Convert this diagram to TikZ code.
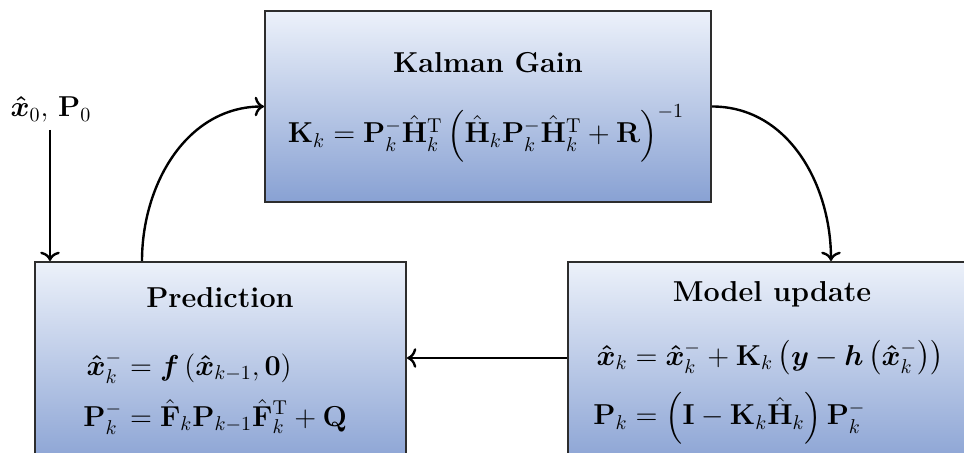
\documentclass[tikz,border=0pt]{standalone}
\usepackage{amsmath}
\usepackage{bm}
\usetikzlibrary{arrows.meta}
\definecolor{boxtop}{RGB}{236,241,250}
\definecolor{boxbot}{RGB}{136,161,211}
\definecolor{boxline}{RGB}{45,45,45}
\begin{document}
\begin{tikzpicture}[x=0.5pt,y=-0.5pt,
  blk/.style={draw=boxline,line width=1pt,top color=boxtop,bottom color=boxbot,inner sep=0pt},
  ttl/.style={font=\Large\bfseries,anchor=base,inner sep=0pt},
  eq/.style={font=\Large\setlength{\jot}{5.5pt},inner sep=0pt},
  eqb/.style={font=\Large\setlength{\jot}{7pt},inner sep=0pt},
  flow/.style={line width=1.2pt,-{To[scale=1.1]}}]
\useasboundingbox (0,0) rectangle (964,453);
\clip (0,0) rectangle (964,453);
% blocks
\node[blk,minimum width=223pt,minimum height=95.5pt] (kg) at (488,106.5) {};
\node[blk,minimum width=185.5pt,minimum height=104pt] (pred) at (220.5,366) {};
\node[blk,minimum width=211pt,minimum height=104pt] (model) at (779,366) {};
% texts
\node[ttl] (kgt) at (488,73) {Kalman Gain};
\node[eq,anchor=base] (kge) at (486,143)
  {$\mathbf{K}_k=\mathbf{P}_k^-\hat{\mathbf{H}}_k^{\mathrm{T}}\left(\hat{\mathbf{H}}_k\mathbf{P}_k^-\hat{\mathbf{H}}_k^{\mathrm{T}}+\mathbf{R}\right)^{-1}$};
\node[ttl] (predt) at (220,308) {Prediction};
\node[eq,anchor=base west] (prede) at (83,401)
  {$\begin{aligned}\bm{\hat{x}}_k^- &= \bm{f}\left(\bm{\hat{x}}_{k-1},\mathbf{0}\right)\\
   \mathbf{P}_k^- &= \hat{\mathbf{F}}_k\mathbf{P}_{k-1}\hat{\mathbf{F}}_k^{\mathrm{T}}+\mathbf{Q}\end{aligned}$};
\node[ttl] (modelt) at (772,302) {Model update};
\node[eqb,anchor=base west] (modele) at (593,399)
  {$\begin{aligned}\bm{\hat{x}}_k &= \bm{\hat{x}}_k^-+\mathbf{K}_k\left(\bm{y}-\bm{h}\left(\bm{\hat{x}}_k^-\right)\right)\\
   \mathbf{P}_k &= \left(\mathbf{I}-\mathbf{K}_k\hat{\mathbf{H}}_k\right)\mathbf{P}_k^-\end{aligned}$};
\node[eq,anchor=base] (x0) at (51,117) {$\bm{\hat{x}}_0,\,\mathbf{P}_0$};
% connectors
\coordinate (s0) at (50,130);
\draw[flow] (s0) -- (s0 |- pred.north);
\draw[flow] ([xshift=54pt]pred.north west) to[out=90,in=180] (kg.west);
\draw[flow] (kg.east) to[out=0,in=90] ([xshift=132pt]model.north west);
\path ([yshift=4pt]model.west) coordinate (mw);
\draw[flow] (mw) -- (mw -| pred.east);
\end{tikzpicture}
\end{document}
